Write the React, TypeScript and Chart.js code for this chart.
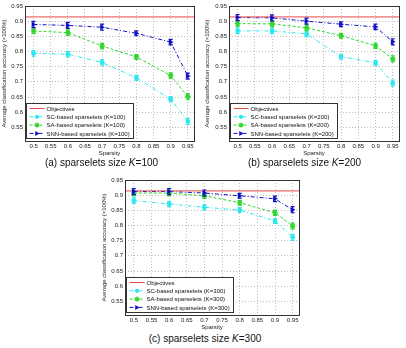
import { useEffect, useRef } from 'react';
import { Chart, registerables } from 'chart.js';
Chart.register(...registerables);

const sparsity = [0.5, 0.6, 0.7, 0.8, 0.9, 0.95];
const xTicks = [0.5, 0.55, 0.6, 0.65, 0.7, 0.75, 0.8, 0.85, 0.9, 0.95];
const yTicks = [0.55, 0.6, 0.65, 0.7, 0.75, 0.8, 0.85, 0.9, 0.95];
const xMin = 0.475;
const xMax = 0.968;
const yMin = 0.505;
const yMax = 0.95;
const objective = 0.914;

const scA = [0.794, 0.791, 0.764, 0.713, 0.643, 0.57];
const saA = [0.868, 0.862, 0.818, 0.782, 0.721, 0.651];
const snnA = [0.889, 0.886, 0.88, 0.86, 0.831, 0.719];
const scB = [0.868, 0.868, 0.858, 0.783, 0.763, 0.696];
const saB = [0.892, 0.891, 0.878, 0.852, 0.819, 0.776];
const snnB = [0.912, 0.911, 0.9, 0.89, 0.881, 0.832];
const scC = [0.882, 0.871, 0.86, 0.851, 0.815, 0.761];
const saC = [0.907, 0.907, 0.898, 0.875, 0.842, 0.798];
const snnC = [0.912, 0.912, 0.907, 0.898, 0.888, 0.852];

const errSC = [0.009, 0.009, 0.009, 0.008, 0.008, 0.01];
const errSA = [0.009, 0.009, 0.009, 0.008, 0.009, 0.01];
const errSNN = [0.01, 0.01, 0.01, 0.008, 0.009, 0.01];

const FONT = "'Liberation Sans', Arial, sans-serif";
const RED = '#e84a4a';
const CYAN = '#2ee6f0';
const GREEN = '#2ed62e';
const BLUE = '#1010c8';

function drawMarker(ctx: CanvasRenderingContext2D, style: string, x: number, y: number, r: number, color: string) {
  ctx.save();
  ctx.fillStyle = color;
  ctx.strokeStyle = color;
  ctx.setLineDash([]);
  ctx.lineWidth = 1.2;
  ctx.beginPath();
  if (style === 'circle') {
    ctx.arc(x, y, r, 0, Math.PI * 2);
    ctx.fill();
  } else if (style === 'star') {
    for (let i = 0; i < 4; i++) {
      const a = (i * Math.PI) / 4;
      ctx.moveTo(x - Math.cos(a) * r, y - Math.sin(a) * r);
      ctx.lineTo(x + Math.cos(a) * r, y + Math.sin(a) * r);
    }
    ctx.stroke();
  } else if (style === 'triangle') {
    ctx.moveTo(x + r, y);
    ctx.lineTo(x - r * 0.7, y - r);
    ctx.lineTo(x - r * 0.7, y + r);
    ctx.closePath();
    ctx.fill();
  }
  ctx.restore();
}

const errorBarPlugin = {
  id: 'errbars',
  afterDatasetsDraw(chart: any) {
    const ctx = chart.ctx;
    const y = chart.scales.y;
    chart.data.datasets.forEach((ds: any, i: number) => {
      if (!ds.errors) return;
      const meta = chart.getDatasetMeta(i);
      ctx.save();
      ctx.strokeStyle = ds.borderColor;
      ctx.lineWidth = 1.2;
      ctx.setLineDash([]);
      meta.data.forEach((pt: any, j: number) => {
        const v = ds.data[j].y;
        const e = ds.errors[j];
        const y1 = y.getPixelForValue(v + e);
        const y2 = y.getPixelForValue(v - e);
        const x = pt.x;
        ctx.beginPath();
        ctx.moveTo(x, y1);
        ctx.lineTo(x, y2);
        ctx.moveTo(x - 2, y1);
        ctx.lineTo(x + 2, y1);
        ctx.moveTo(x - 2, y2);
        ctx.lineTo(x + 2, y2);
        ctx.stroke();
        drawMarker(ctx, ds.marker, x, pt.y, ds.markerR, ds.borderColor);
      });
      ctx.restore();
    });
  },
};

const frameLegendPlugin = {
  id: 'frameLegend',
  afterDraw(chart: any) {
    const ctx = chart.ctx;
    const a = chart.chartArea;
    ctx.save();
    ctx.strokeStyle = '#333';
    ctx.lineWidth = 1;
    ctx.setLineDash([]);
    ctx.strokeRect(Math.round(a.left) + 0.5, Math.round(a.top) + 0.5, Math.round(a.right - a.left), Math.round(a.bottom - a.top));
    ctx.font = `6px ${FONT}`;
    const items = chart.data.datasets;
    let maxW = 0;
    items.forEach((d: any) => { maxW = Math.max(maxW, ctx.measureText(d.label).width); });
    const rowH = 8.3;
    const boxW = Math.round(maxW + 24);
    const boxH = Math.round(items.length * rowH + 2);
    const bx = Math.round(a.left) + 1.5;
    const by = Math.round(a.bottom) - 2.5 - boxH;
    ctx.fillStyle = '#fff';
    ctx.fillRect(bx, by, boxW, boxH);
    ctx.strokeStyle = '#333';
    ctx.strokeRect(bx, by, boxW, boxH);
    items.forEach((d: any, i: number) => {
      const cy = by + 5 + i * rowH;
      ctx.strokeStyle = d.borderColor;
      ctx.lineWidth = 1;
      ctx.setLineDash(d.borderDash || []);
      ctx.beginPath();
      ctx.moveTo(bx + 3, cy);
      ctx.lineTo(bx + 18, cy);
      ctx.stroke();
      ctx.setLineDash([]);
      if (d.marker) drawMarker(ctx, d.marker, bx + 10.5, cy, d.markerR * 0.9, d.borderColor);
      ctx.fillStyle = '#111';
      ctx.textBaseline = 'middle';
      ctx.textAlign = 'left';
      ctx.fillText(d.label, bx + 20, cy + 0.5);
    });
    ctx.restore();
  },
};

function makeConfig(k: number, sc: number[], sa: number[], snn: number[], yW: number, padR: number) {
  const pts = (arr: number[]) => arr.map((v, i) => ({ x: sparsity[i], y: v }));
  return {
    type: 'line',
    data: {
      datasets: [
        { label: 'Objectives', data: [{ x: xMin, y: objective }, { x: xMax, y: objective }], borderColor: RED, backgroundColor: RED, borderWidth: 1, pointRadius: 0 },
        { label: `SC-based sparselets (K=${k})`, data: pts(sc), errors: errSC, marker: 'circle', markerR: 2.4, borderColor: CYAN, backgroundColor: CYAN, borderWidth: 1, borderDash: [4, 2, 1, 2], pointRadius: 0 },
        { label: `SA-based sparselets (K=${k})`, data: pts(sa), errors: errSA, marker: 'star', markerR: 2.8, borderColor: GREEN, backgroundColor: GREEN, borderWidth: 1, borderDash: [3, 2], pointRadius: 0 },
        { label: `SNN-based sparselets (K=${k})`, data: pts(snn), errors: errSNN, marker: 'triangle', markerR: 2.8, borderColor: BLUE, backgroundColor: BLUE, borderWidth: 1, borderDash: [4, 2, 1, 2], pointRadius: 0 },
      ],
    },
    options: {
      animation: false,
      responsive: false,
      maintainAspectRatio: false,
      layout: { padding: { top: 6, right: padR, left: 0, bottom: 0 } },
      plugins: { legend: { display: false }, tooltip: { enabled: false } },
      scales: {
        x: {
          type: 'linear', min: xMin, max: xMax,
          afterBuildTicks: (s: any) => { s.ticks = xTicks.map((v) => ({ value: v })); },
          afterFit: (s: any) => { s.height = 17; },
          ticks: { font: { family: FONT, size: 6 }, color: '#222', padding: 2, autoSkip: false, maxRotation: 0, callback: (v: any) => String(Number(Number(v).toFixed(2))) },
          grid: { color: '#bdbdbd', drawTicks: false },
          border: { display: false, dash: [1, 2] },
          title: { display: true, text: 'Sparsity', font: { family: FONT, size: 6 }, color: '#222', padding: { top: 0, bottom: 1 } },
        },
        y: {
          type: 'linear', min: yMin, max: yMax,
          afterBuildTicks: (s: any) => { s.ticks = yTicks.map((v) => ({ value: v })); },
          afterFit: (s: any) => { s.width = yW; },
          ticks: { font: { family: FONT, size: 6 }, color: '#222', padding: 2, autoSkip: false, callback: (v: any) => String(Number(Number(v).toFixed(2))) },
          grid: { color: '#bdbdbd', drawTicks: false },
          border: { display: false, dash: [1, 2] },
          title: { display: true, text: 'Average classification accuracy (×100%)', font: { family: FONT, size: 6 }, color: '#222', padding: { top: 1, bottom: 0 } },
        },
      },
    },
    plugins: [errorBarPlugin, frameLegendPlugin],
  };
}

function Panel(props: { left: number; top: number; width: number; height: number; k: number; sc: number[]; sa: number[]; snn: number[]; yW: number; padR: number; caption: string; capTop: number }) {
  const ref = useRef<HTMLCanvasElement>(null);
  useEffect(() => {
    const ch = new Chart(ref.current as HTMLCanvasElement, makeConfig(props.k, props.sc, props.sa, props.snn, props.yW, props.padR) as any);
    return () => ch.destroy();
  }, []);
  return (
    <>
      <canvas ref={ref} width={props.width} height={props.height} style={{ position: 'absolute', left: props.left, top: props.top, width: props.width, height: props.height }} />
      <div style={{ position: 'absolute', left: props.left, top: props.capTop, width: props.width, textAlign: 'center', font: `10px ${FONT}`, color: '#111', whiteSpace: 'nowrap' }}>
        {props.caption}<i>K</i>={props.k}
      </div>
    </>
  );
}

export default function App() {
  return (
    <div style={{ position: 'fixed', left: 0, top: 0, width: 406, height: 348, background: '#fff', overflow: 'hidden' }}>
      <Panel left={0} top={0} width={203} height={158} k={100} sc={scA} sa={saA} snn={snnA} yW={25} padR={9} caption="(a) sparselets size " capTop={157} />
      <Panel left={203} top={0} width={203} height={158} k={200} sc={scB} sa={saB} snn={snnB} yW={26} padR={7} caption="(b) sparselets size " capTop={157} />
      <Panel left={100} top={174} width={210} height={158} k={300} sc={scC} sa={saC} snn={snnC} yW={25} padR={11} caption="(c) sparselets size " capTop={333} />
    </div>
  );
}
